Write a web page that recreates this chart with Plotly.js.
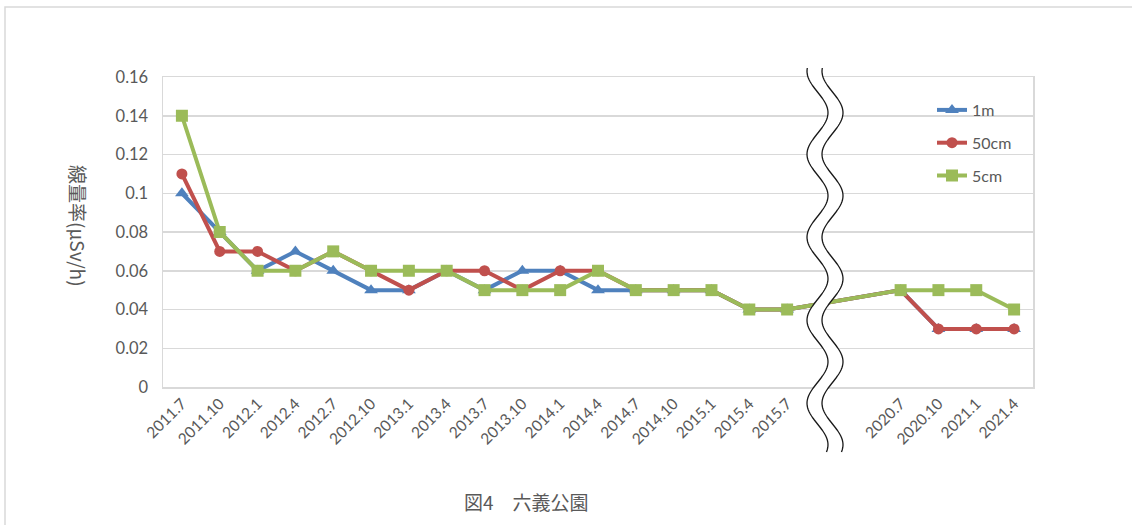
<!DOCTYPE html>
<html>
<head>
<meta charset="utf-8">
<script src="https://cdn.plot.ly/plotly-3.0.1.min.js"></script>
<style>
html,body{margin:0;padding:0;background:#fff;}
#chart{width:1132px;height:525px;}
</style>
</head>
<body>
<div id="chart"></div>
<script>
const categories = ['2011.7','2011.10','2012.1','2012.4','2012.7','2012.10','2013.1','2013.4','2013.7','2013.10','2014.1','2014.4','2014.7','2014.10','2015.1','2015.4','2015.7','','','2020.7','2020.10','2021.1','2021.4'];
const series1m  = [0.10,0.08,0.06,0.07,0.06,0.05,0.05,0.06,0.05,0.06,0.06,0.05,0.05,0.05,0.05,0.04,0.04,null,null,0.05,0.03,0.03,0.03];
const series50cm = [0.11,0.07,0.07,0.06,0.07,0.06,0.05,0.06,0.06,0.05,0.06,0.06,0.05,0.05,0.05,0.04,0.04,null,null,0.05,0.03,0.03,0.03];
const series5cm = [0.14,0.08,0.06,0.06,0.07,0.06,0.06,0.06,0.05,0.05,0.05,0.06,0.05,0.05,0.05,0.04,0.04,null,null,0.05,0.05,0.05,0.04];
const seriesNames = ['1m','50cm','5cm'];
const chartTitle = '図4　六義公園';
const yTitle = '線量率(μSv/h)';

const xIdx = categories.map((c,i)=>i);
const colors = ['#4F81BD','#C0504D','#9BBB59'];
const symbols = ['triangle-up','circle','square'];
const sizes = [12,11,12];
const data = [series1m, series50cm, series5cm].map((v,k)=>({
  type:'scatter', mode:'lines+markers', x:xIdx, y:v, name:seriesNames[k],
  connectgaps:true, legendgroup:'g'+k,
  line:{color:colors[k], width:4},
  marker:{color:colors[k], symbol:symbols[k], size:sizes[k]},
  hoverinfo:'skip'
}));

// layout geometry (pixels)
const L=163, R=1033, T=77, B=387, W=1132, H=525;
const px = x => (x-L)/(R-L);
const py = y => (B-y)/(B-T);

// wavy break decoration
function waveX(y){ return 825 + 10.5*Math.sin(2*Math.PI*(y-92)/83); }
function wave(offset){
  let d='';
  for(let y=68; y<=452; y+=2){
    d += (d===''?'M':'L') + px(waveX(y)+offset).toFixed(5) + ',' + py(y).toFixed(5) + ' ';
  }
  return d;
}
function band(){
  let pts=[];
  for(let y=68; y<=452; y+=2) pts.push([waveX(y)-7.5,y]);
  for(let y=452; y>=68; y-=2) pts.push([waveX(y)+7.5,y]);
  let d='';
  pts.forEach((p,i)=>{ d += (i===0?'M':'L') + px(p[0]).toFixed(5)+','+py(p[1]).toFixed(5)+' '; });
  return d+'Z';
}

const shapes = [
  {type:'rect', xref:'paper', yref:'paper', x0:px(5), x1:px(1140), y0:py(540), y1:py(7),
   line:{color:'#D9D9D9', width:1.5}, fillcolor:'rgba(0,0,0,0)', layer:'below'},
  {type:'path', xref:'paper', yref:'paper', path:band(), fillcolor:'#FFFFFF', line:{width:0}, layer:'above'},
  {type:'path', xref:'paper', yref:'paper', path:wave(-7.5), fillcolor:'rgba(0,0,0,0)', line:{color:'#1a1a1a', width:1.3}, layer:'above'},
  {type:'path', xref:'paper', yref:'paper', path:wave(7.5), fillcolor:'rgba(0,0,0,0)', line:{color:'#1a1a1a', width:1.3}, layer:'above'}
];

const layout = {
  width:W, height:H,
  margin:{l:L, r:W-R, t:T, b:H-B},
  paper_bgcolor:'#fff', plot_bgcolor:'#fff',
  font:{family:'Lato, "Open Sans", sans-serif', color:'#595959'},
  showlegend:true,
  legend:{x:px(932), y:py(93), xanchor:'left', yanchor:'top', bgcolor:'rgba(0,0,0,0)',
    font:{size:16, color:'#595959', family:'Lato, sans-serif'}, tracegroupgap:9, traceorder:'grouped'},
  xaxis:{range:[-0.5, categories.length-0.5], tickmode:'array', tickvals:xIdx, ticktext:categories,
    tickangle:-45, tickfont:{size:15.5, color:'#595959'}, showgrid:false, zeroline:false,
    showline:true, mirror:true, linecolor:'#D9D9D9', linewidth:1.5, ticks:'', fixedrange:true},
  yaxis:{range:[0,0.16], dtick:0.02, tick0:0, tickfont:{size:16.5, color:'#595959'},
    showgrid:true, gridcolor:'#D9D9D9', gridwidth:1.5, zeroline:false,
    showline:true, mirror:true, linecolor:'#D9D9D9', linewidth:1.5, ticks:'',
    ticklabelstandoff:10, fixedrange:true},
  shapes:shapes,
  annotations:[
    {xref:'paper', yref:'paper', x:px(526), y:py(501), text:chartTitle, showarrow:false,
     font:{family:'"Noto Sans CJK JP", sans-serif', size:19, color:'#595959'}, xanchor:'center', yanchor:'middle'},
    {xref:'paper', yref:'paper', x:px(78), y:py(226), text:yTitle, showarrow:false, textangle:90,
     font:{family:'"Noto Sans CJK JP", sans-serif', size:19, color:'#595959'}, xanchor:'center', yanchor:'middle'}
  ]
};

Plotly.newPlot('chart', data, layout, {displayModeBar:false, staticPlot:true});
</script>
</body>
</html>
